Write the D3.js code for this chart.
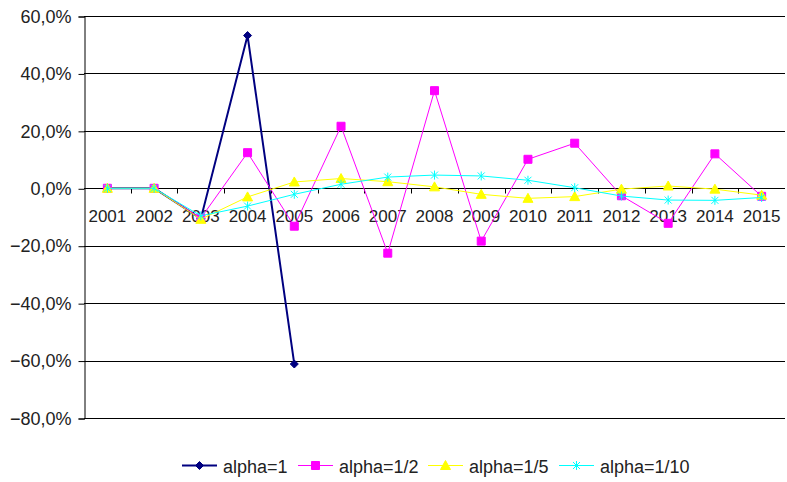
<!DOCTYPE html>
<html>
<head>
<meta charset="utf-8">
<script src="https://cdn.jsdelivr.net/npm/d3@7"></script>
<style>
  body { margin: 0; background: #fff; }
  text { font-family: "Liberation Sans", Arial, sans-serif; fill: #222; }
</style>
</head>
<body>
<div id="chart"></div>
<script>
var years = ["2001", "2002", "2003", "2004", "2005", "2006", "2007", "2008",
             "2009", "2010", "2011", "2012", "2013", "2014", "2015"];

var alpha1 = [0, 0, -10.6, 53.2, -61.2, null, null, null, null, null, null, null, null, null, null];
var alphaHalf = [0, 0, -10.4, 12.4, -13.2, 21.6, -22.6, 34.0, -18.4, 10.1, 15.7, -2.6, -12.2, 12.0, -2.8];
var alphaFifth = [0, 0, -10.8, -3.0, 2.2, 3.4, 2.3, 0.5, -2.1, -3.5, -2.9, -0.3, 0.8, -0.3, -2.4];
var alphaTenth = [0, 0, -9.6, -6.2, -2.1, 1.4, 3.9, 4.6, 4.3, 2.8, 0.2, -2.7, -4.1, -4.2, -3.2];

var seriesNames = ["alpha=1", "alpha=1/2", "alpha=1/5", "alpha=1/10"];
var yTicks = [60, 40, 20, 0, -20, -40, -60, -80];

var series = [
  { name: seriesNames[0], values: alpha1, color: "#000080", width: 2, marker: "diamond" },
  { name: seriesNames[1], values: alphaHalf, color: "#ff00ff", width: 1, marker: "square" },
  { name: seriesNames[2], values: alphaFifth, color: "#ffff00", width: 1, marker: "triangle" },
  { name: seriesNames[3], values: alphaTenth, color: "#00ffff", width: 1, marker: "star" }
];

var svgWidth = 787;
var svgHeight = 482;

var margin = { top: 16, right: 2, bottom: 64, left: 84 };
var width = svgWidth - margin.left - margin.right;
var height = svgHeight - margin.top - margin.bottom;

var svg = d3.select("#chart")
    .append("svg")
    .attr("width", svgWidth)
    .attr("height", svgHeight);

var chartGroup = svg.append("g")
    .attr("transform", `translate(${margin.left}, ${margin.top})`);

var x = d3.scaleBand()
    .domain(years)
    .range([0, width])
    .padding(0);

var y = d3.scaleLinear()
    .domain([-80, 60])
    .range([height, 0]);

// gridlines
chartGroup.append("g")
    .selectAll("line")
    .data(yTicks)
    .enter()
    .append("line")
    .attr("x1", 0)
    .attr("x2", width)
    .attr("y1", d => Math.round(y(d)) + 0.5)
    .attr("y2", d => Math.round(y(d)) + 0.5)
    .attr("stroke", "#000")
    .attr("stroke-width", 1);

// y axis
var leftAxis = d3.axisLeft(y)
    .tickValues(yTicks)
    .tickSize(6)
    .tickPadding(7)
    .tickFormat(d => d3.format(".1f")(d).replace(".", ",") + "%");

var yAxisG = chartGroup.append("g")
    .attr("transform", "translate(0.5, 0.5)")
    .call(leftAxis);
yAxisG.select(".domain").attr("stroke", "#000");
yAxisG.selectAll(".tick line").attr("stroke", "#000");
yAxisG.selectAll(".tick text")
    .attr("font-size", 18)
    .attr("font-family", "Liberation Sans, Arial, sans-serif")
    .attr("fill", "#222");

// x axis on the zero line: ticks between categories
var xG = chartGroup.append("g")
    .attr("transform", `translate(0, ${Math.round(y(0)) + 0.5})`);

xG.selectAll("line")
    .data(years.slice(1))
    .enter()
    .append("line")
    .attr("x1", d => Math.round(x(d)) + 0.5)
    .attr("x2", d => Math.round(x(d)) + 0.5)
    .attr("y1", 0)
    .attr("y2", 5)
    .attr("stroke", "#000");

xG.selectAll("text")
    .data(years)
    .enter()
    .append("text")
    .attr("x", d => x(d) + x.bandwidth() / 2)
    .attr("y", 33)
    .attr("text-anchor", "middle")
    .attr("font-size", 17)
    .text(d => d);

// lines
var line = d3.line()
    .defined(d => d.v !== null)
    .x(d => x(d.year) + x.bandwidth() / 2)
    .y(d => y(d.v));

function markerPath(type) {
  if (type === "diamond") return "M0,-4L4,0L0,4L-4,0Z";
  if (type === "square") return "M-4,-4H4V4H-4Z";
  if (type === "triangle") return "M0,-5L5,4H-5Z";
  return "M-3.5,-3.5L3.5,3.5M-3.5,3.5L3.5,-3.5M0,-4.5V4.5";
}

series.forEach(function(s) {
  var pts = years.map((yr, i) => ({ year: yr, v: s.values[i] }));

  chartGroup.append("path")
    .datum(pts)
    .attr("d", line)
    .attr("fill", "none")
    .attr("stroke", s.color)
    .attr("stroke-width", s.width);

  chartGroup.append("g")
    .selectAll("path")
    .data(pts.filter(d => d.v !== null))
    .enter()
    .append("path")
    .attr("transform", d => `translate(${x(d.year) + x.bandwidth() / 2}, ${y(d.v)})`)
    .attr("d", markerPath(s.marker))
    .attr("fill", s.marker === "star" ? "none" : s.color)
    .attr("stroke", s.color)
    .attr("stroke-width", 1);
});

// legend
var legendX = [182, 298, 428, 559];
var legend = svg.append("g")
    .attr("transform", "translate(0, 465)");

series.forEach(function(s, i) {
  var g = legend.append("g")
    .attr("transform", `translate(${legendX[i]}, 0)`);
  g.append("line")
    .attr("x1", 0)
    .attr("x2", 35)
    .attr("y1", 0.5)
    .attr("y2", 0.5)
    .attr("stroke", s.color)
    .attr("stroke-width", s.width);
  g.append("path")
    .attr("transform", "translate(17.5, 0.5)")
    .attr("d", markerPath(s.marker))
    .attr("fill", s.marker === "star" ? "none" : s.color)
    .attr("stroke", s.color);
  g.append("text")
    .attr("x", 41)
    .attr("y", 8)
    .attr("font-size", 18)
    .text(s.name);
});
</script>
</body>
</html>
